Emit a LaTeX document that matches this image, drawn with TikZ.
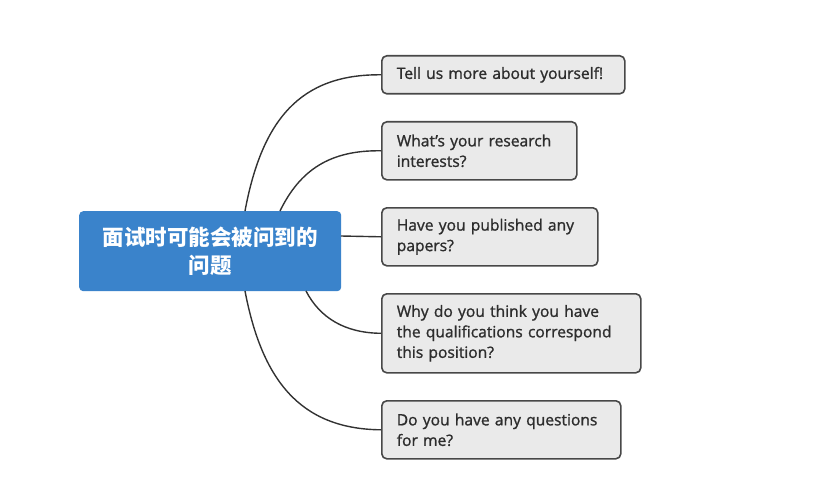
\documentclass[tikz,border=0pt]{standalone}
\usepackage{fontspec}
\setmainfont{Open Sans}[FakeBold=1.2]
\newfontfamily\cjk{Noto Sans CJK SC}
\definecolor{rootblue}{RGB}{58,131,203}
\definecolor{boxfill}{RGB}{234,234,234}
\definecolor{boxline}{RGB}{72,72,72}
\definecolor{linkcol}{RGB}{50,50,50}
\definecolor{qtext}{RGB}{45,45,45}
\begin{document}
\begin{tikzpicture}[x=1pt,y=-1pt,
  rootbox/.style={fill=rootblue, rounded corners=4pt, text=white, align=center,
    font=\cjk\bfseries\fontsize{21.5}{28}\selectfont, inner sep=0pt,
    minimum width=262pt, minimum height=80pt, anchor=north west},
  qbox/.style={draw=boxline, line width=1.6pt, fill=boxfill, rounded corners=5pt,
    align=left, inner xsep=15pt, inner ysep=0pt, anchor=north west,
    font=\fontsize{15.6}{20.5}\selectfont, text=qtext},
  link/.style={draw=linkcol, line width=1.4pt}]
\useasboundingbox (0,0) rectangle (832,500);
\node[rootbox] (root) at (79,211) {面试时可能会被问到的\\问题};
\node[qbox, text width=213pt, minimum height=38pt] (q1) at (381,55) {Tell us more about yourself!};
\node[qbox, text width=165pt, minimum height=58pt] (q2) at (381,121) {What's your research\\interests?};
\node[qbox, text width=186pt, minimum height=58pt] (q3) at (381,207) {Have you published any\\papers?};
\node[qbox, text width=229pt, minimum height=79pt] (q4) at (381,293) {Why do you think you have\\the qualifications correspond\\this position?};
\node[qbox, text width=209pt, minimum height=58pt] (q5) at (381,400) {Do you have any questions\\for me?};
\coordinate (r1) at (245,211);
\coordinate (r2) at (280,211);
\coordinate (r3) at (341,236);
\coordinate (r4) at (306,291);
\coordinate (r5) at (245,291);
\draw[link] (r1) .. controls (262,120) and (300,74) .. (q1.west);
\draw[link] (r2) .. controls (300,170) and (330,150) .. (q2.west);
\draw[link] (r3) -- (q3.west);
\draw[link] (r4) .. controls (320,318) and (345,333) .. (q4.west);
\draw[link] (r5) .. controls (262,380) and (300,429) .. (q5.west);
\end{tikzpicture}
\end{document}
